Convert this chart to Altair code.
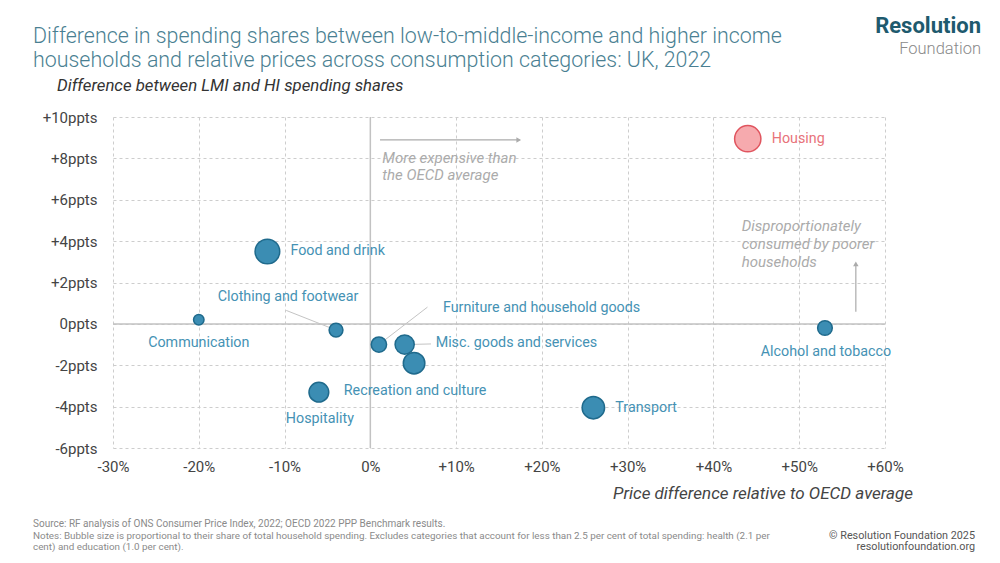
import altair as alt
import pandas as pd

# ---------------- data ----------------
categories = ["Housing", "Food and drink", "Communication", "Clothing and footwear",
              "Furniture and household goods", "Misc. goods and services",
              "Recreation and culture", "Hospitality", "Transport", "Alcohol and tobacco"]
price_diff = [44.0, -12.0, -20.0, -4.0, 1.0, 4.0, 5.1, -6.0, 26.0, 53.0]      # % vs OECD avg
share_diff = [8.95, 3.5, 0.2, -0.3, -1.0, -1.0, -1.9, -3.3, -4.05, -0.2]      # ppts LMI - HI
spend_share = [17.7, 15.6, 2.8, 4.9, 6.0, 9.4, 11.9, 10.0, 12.9, 5.5]         # % of total spending
x_ticks = [-30, -20, -10, 0, 10, 20, 30, 40, 50, 60]
y_ticks = [-6, -4, -2, 0, 2, 4, 6, 8, 10]

df = pd.DataFrame({"cat": categories, "x": price_diff, "y": share_diff, "share": spend_share})

FONT = "Roboto"
TEAL_FILL = "#3b8db3"
TEAL_STROKE = "#1f6a8c"
TEAL_TEXT = "#4592b4"
RED_FILL = "#f6aaae"
RED_STROKE = "#e0555f"
RED_TEXT = "#e8737a"
ANNO = "#ababab"

W, H = 772, 331

X = alt.X("x:Q", scale=alt.Scale(domain=[-30, 60], nice=False, zero=False),
          axis=alt.Axis(values=x_ticks, title=None, ticks=False, domain=False, labelFlush=False,
                        grid=True, gridDash=[3, 3], gridColor="#cdcdcd", gridWidth=1,
                        labelExpr="datum.value > 0 ? '+' + datum.value + '%' : datum.value + '%'",
                        labelFont=FONT, labelFontSize=15, labelColor="#444444", labelPadding=11))
Y = alt.Y("y:Q", scale=alt.Scale(domain=[-6, 10], nice=False, zero=False),
          axis=alt.Axis(values=y_ticks, title=None, ticks=False, domain=False, labelFlush=False,
                        grid=True, gridDash=[3, 3], gridColor="#cdcdcd", gridWidth=1,
                        labelExpr="datum.value > 0 ? '+' + datum.value + 'ppts' : datum.value + 'ppts'",
                        labelFont=FONT, labelFontSize=15, labelColor="#444444", labelPadding=16))

layers = []

# zero lines
zx = alt.Chart(pd.DataFrame({"x": [0]})).mark_rule(color="#c2c2c2", strokeWidth=1.5).encode(x=X)
zy = alt.Chart(pd.DataFrame({"y": [0]})).mark_rule(color="#c2c2c2", strokeWidth=1.5).encode(y=Y)
layers += [zx, zy]

# leader lines (start point in data units, end at bubble centre)
leader_start = {"Clothing and footwear": (-9.8, 0.65),
                "Furniture and household goods": (6.66, 0.81),
                "Misc. goods and services": (7.07, -0.97)}
lead_rows = []
for c, (sx, sy) in leader_start.items():
    i = categories.index(c)
    lead_rows.append({"x": sx, "y": sy, "x2": price_diff[i], "y2": share_diff[i]})
leaders = alt.Chart(pd.DataFrame(lead_rows)).mark_rule(color="#c4c4c4", strokeWidth=1).encode(
    x=X, y=Y, x2="x2:Q", y2="y2:Q")
layers.append(leaders)

# annotation arrows
arrow_lines = pd.DataFrame([{"x": 1.13, "y": 8.89, "x2": 17.4, "y2": 8.89},
                            {"x": 56.6, "y": 0.59, "x2": 56.6, "y2": 2.85}])
layers.append(alt.Chart(arrow_lines).mark_rule(color=ANNO, strokeWidth=1.2).encode(
    x=X, y=Y, x2="x2:Q", y2="y2:Q"))
layers.append(alt.Chart(pd.DataFrame({"x": [17.3], "y": [8.89]})).mark_point(
    shape="triangle-right", filled=True, color=ANNO, size=30, opacity=1).encode(x=X, y=Y))
layers.append(alt.Chart(pd.DataFrame({"x": [56.6], "y": [2.9]})).mark_point(
    shape="triangle-up", filled=True, color=ANNO, size=30, opacity=1).encode(x=X, y=Y))

# annotation texts
layers.append(alt.Chart(pd.DataFrame({"x": [1.4], "y": [8.36],
                                      "t": ["More expensive than\nthe OECD average"]})).mark_text(
    align="left", baseline="top", lineBreak="\n", lineHeight=17.5, font=FONT, fontSize=15,
    fontStyle="italic", color=ANNO).encode(x=X, y=Y, text="t:N"))
layers.append(alt.Chart(pd.DataFrame({"x": [43.3], "y": [5.05],
                                      "t": ["Disproportionately\nconsumed by poorer\nhouseholds"]})).mark_text(
    align="left", baseline="top", lineBreak="\n", lineHeight=17.6, font=FONT, fontSize=15,
    fontStyle="italic", color=ANNO).encode(x=X, y=Y, text="t:N"))

# bubbles
is_housing = alt.datum.cat == "Housing"
bubbles = alt.Chart(df).mark_circle(opacity=1, strokeWidth=1.5).encode(
    x=X, y=Y,
    size=alt.Size("share:Q", scale=alt.Scale(domain=[0, 20], range=[0, 780]), legend=None),
    fill=alt.condition(is_housing, alt.value(RED_FILL), alt.value(TEAL_FILL)),
    stroke=alt.condition(is_housing, alt.value(RED_STROKE), alt.value(TEAL_STROKE)),
)
layers.append(bubbles)

# bubble labels: (align, dx, dy)
label_style = {
    "Housing": ("left", 24, 0),
    "Food and drink": ("left", 23, 0),
    "Transport": ("left", 22, 0),
    "Communication": ("center", 0, 23),
    "Alcohol and tobacco": ("center", 1, 24),
    "Recreation and culture": ("center", 1, 28),
    "Hospitality": ("center", 1, 27),
    "Clothing and footwear": ("center", -48, -33),
    "Furniture and household goods": ("left", 64, -37),
    "Misc. goods and services": ("left", 31, -2),
}
for c, (al, dx, dy) in label_style.items():
    col = RED_TEXT if c == "Housing" else TEAL_TEXT
    layers.append(alt.Chart(df).transform_filter(alt.datum.cat == c).mark_text(
        align=al, baseline="middle", dx=dx, dy=dy, font=FONT, fontSize=14.3, color=col
    ).encode(x=X, y=Y, text="cat:N"))

# page texts in pixel positions relative to plot area
one = alt.Data(values=[{}])


def ptext(txt, px, py, **kw):
    return alt.Chart(one).mark_text(text=txt, font=FONT, **kw).encode(
        x=alt.value(px), y=alt.value(py))


layers += [
    ptext("Difference in spending shares between low-to-middle-income and higher income",
          -80, -74, align="left", baseline="alphabetic", fontSize=21.4, fontWeight=300, color="#4a7f92"),
    ptext("households and relative prices across consumption categories: UK, 2022",
          -80, -50, align="left", baseline="alphabetic", fontSize=21.4, fontWeight=300, color="#4a7f92"),
    ptext("Difference between LMI and HI spending shares",
          -56, -26, align="left", baseline="alphabetic", fontSize=16.8, fontStyle="italic", color="#333333"),
    ptext("Resolution", 868, -84, align="right", baseline="alphabetic", fontSize=22,
          fontWeight="bold", color="#1e5a6e"),
    ptext("Foundation", 868, -63, align="right", baseline="alphabetic", fontSize=16.5,
          fontWeight=300, color="#8a8a8a"),
    ptext("Price difference relative to OECD average", 800, 377, align="right", baseline="middle",
          fontSize=17, fontStyle="italic", color="#444444"),
    ptext("Source: RF analysis of ONS Consumer Price Index, 2022; OECD 2022 PPP Benchmark results.",
          -80, 410, align="left", baseline="alphabetic", fontSize=10, color="#8a8a8a"),
    ptext("Notes: Bubble size is proportional to their share of total household spending. Excludes categories "
          "that account for less than 2.5 per cent of total spending: health (2.1 per",
          -80, 422, align="left", baseline="alphabetic", fontSize=9.85, color="#8a8a8a"),
    ptext("cent) and education (1.0 per cent).",
          -80, 433, align="left", baseline="alphabetic", fontSize=9.85, color="#8a8a8a"),
    ptext("© Resolution Foundation 2025", 862, 422, align="right", baseline="alphabetic",
          fontSize=10.8, color="#555555"),
    ptext("resolutionfoundation.org", 862, 433, align="right", baseline="alphabetic",
          fontSize=10.8, color="#555555"),
]

chart = alt.layer(*layers).properties(
    width=W, height=H,
    autosize=alt.AutoSizeParams(type="none"),
    padding={"left": 105, "top": 109, "right": 107, "bottom": 104},
    background="white",
).configure_view(stroke=None)

chart.save("out.html", embed_options={"renderer": "svg", "actions": False})
